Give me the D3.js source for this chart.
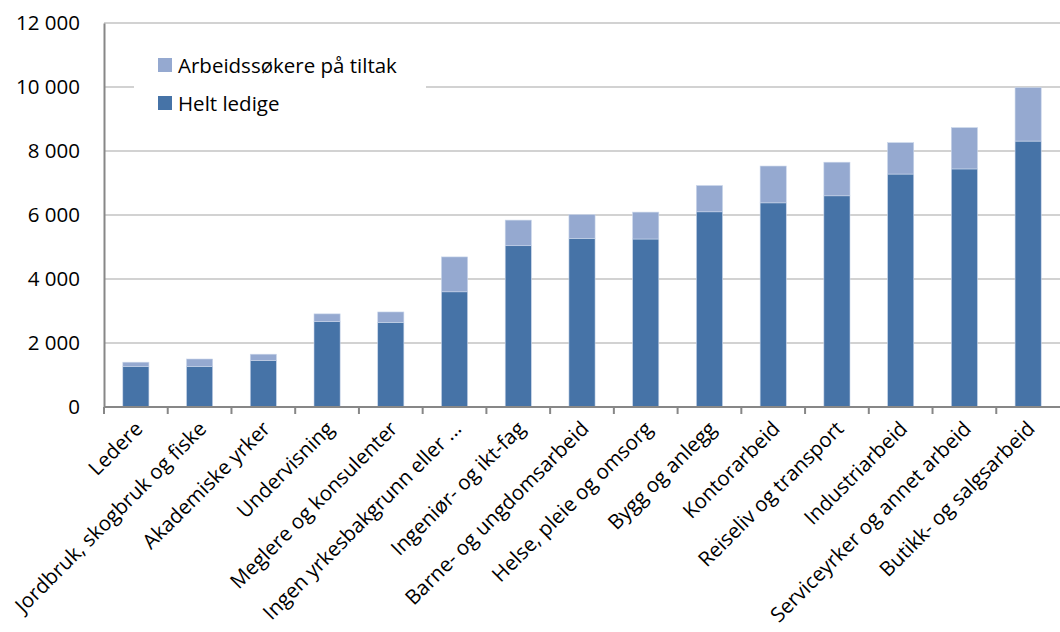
<!DOCTYPE html>
<html>
<head>
<meta charset="utf-8">
<script src="https://cdn.jsdelivr.net/npm/d3@7"></script>
<style>
  body { margin: 0; background: #fff; }
  svg text { font-family: "Open Sans", "Noto Sans", sans-serif; fill: #000; }
</style>
</head>
<body>
<div id="chart"></div>
<script>
//categories and series values
const categories = ["Ledere", "Jordbruk, skogbruk og fiske", "Akademiske yrker", "Undervisning",
    "Meglere og konsulenter", "Ingen yrkesbakgrunn eller ...", "Ingeniør- og ikt-fag",
    "Barne- og ungdomsarbeid", "Helse, pleie og omsorg", "Bygg og anlegg", "Kontorarbeid",
    "Reiseliv og transport", "Industriarbeid", "Serviceyrker og annet arbeid", "Butikk- og salgsarbeid"];
const heltLedige = [1260, 1260, 1450, 2670, 2640, 3600, 5040, 5270, 5250, 6100, 6380, 6600, 7280, 7440, 8310];
const tiltak = [140, 240, 200, 240, 330, 1090, 800, 740, 840, 820, 1150, 1050, 980, 1290, 1670];
const seriesNames = ["Helt ledige", "Arbeidssøkere på tiltak"];
const yTicks = [0, 2000, 4000, 6000, 8000, 10000, 12000];

const width = 1060, height = 632;
const margin = {top: 23, right: 0, bottom: 225, left: 104};

const svg = d3.select("#chart").append("svg")
    .attr("width", width)
    .attr("height", height);

const x = d3.scaleBand()
    .domain(categories)
    .range([margin.left, width - margin.right])
    .paddingInner(0.59)
    .paddingOuter(0.295);

const y = d3.scaleLinear()
    .domain([0, 12000])
    .range([height - margin.bottom, margin.top]);

const fmt = function(v){ return d3.format(",")(v).replace(/,/g, " "); };

//gridlines
svg.append("g").selectAll("line")
    .data(yTicks.slice(1))
    .enter().append("line")
    .attr("x1", margin.left).attr("x2", width - margin.right)
    .attr("y1", function(d){ return y(d); })
    .attr("y2", function(d){ return y(d); })
    .attr("stroke", "#c3c3c3")
    .attr("stroke-width", 1.6);

//stacked data
const table = categories.map(function(c, i){
    return {cat: c, "Helt ledige": heltLedige[i], "Arbeidssøkere på tiltak": tiltak[i]};
});
const stacked = d3.stack().keys(seriesNames)(table);
const colors = {"Helt ledige": "#4673a7", "Arbeidssøkere på tiltak": "#95a9d0"};

//draw bars
svg.append("g").selectAll("g")
    .data(stacked)
    .enter().append("g")
    .attr("fill", function(d){ return colors[d.key]; })
    .selectAll("rect")
    .data(function(d){ return d; })
    .enter().append("rect")
    .attr("x", function(d){ return x(d.data.cat); })
    .attr("y", function(d){ return y(d[1]); })
    .attr("width", x.bandwidth())
    .attr("height", function(d){ return y(d[0]) - y(d[1]); })
    .attr("stroke", "#c9d5ea")
    .attr("stroke-width", 0.6);

//y axis
const yAxis = svg.append("g")
    .attr("transform", "translate(" + margin.left + ",0)")
    .call(d3.axisLeft(y).tickValues(yTicks).tickFormat(fmt).tickSize(0).tickPadding(24));
yAxis.select(".domain").attr("stroke", "#878787").attr("stroke-width", 2);
yAxis.selectAll("text").style("font-size", "20.5px");

//x axis
const xAxisG = svg.append("g")
    .attr("transform", "translate(0," + y(0) + ")");
xAxisG.append("line")
    .attr("x1", margin.left).attr("x2", width - margin.right)
    .attr("stroke", "#878787").attr("stroke-width", 2);
const step = x.step();
xAxisG.selectAll(".tick")
    .data(categories)
    .enter().append("line")
    .attr("x1", function(d){ return x(d) + x.bandwidth() / 2 - step / 2; })
    .attr("x2", function(d){ return x(d) + x.bandwidth() / 2 - step / 2; })
    .attr("y1", 0).attr("y2", 7)
    .attr("stroke", "#878787").attr("stroke-width", 2);

//x labels
xAxisG.selectAll("text")
    .data(categories)
    .enter().append("text")
    .attr("transform", function(d){
        return "translate(" + (x(d) + x.bandwidth() / 2 + 8) + ",23) rotate(-45)";
    })
    .attr("text-anchor", "end")
    .style("font-size", "20.5px")
    .text(function(d){ return d; });

//legend
const legend = svg.append("g");
legend.append("rect")
    .attr("x", 134).attr("y", 50).attr("width", 292).attr("height", 74)
    .attr("fill", "#fff");
const legendItems = ["Arbeidssøkere på tiltak", "Helt ledige"];
legend.selectAll(".sw")
    .data(legendItems)
    .enter().append("rect")
    .attr("x", 158)
    .attr("y", function(d, i){ return 58 + i * 38; })
    .attr("width", 14).attr("height", 14)
    .attr("fill", function(d){ return colors[d]; });
legend.selectAll("text")
    .data(legendItems)
    .enter().append("text")
    .attr("x", 178)
    .attr("y", function(d, i){ return 73 + i * 38; })
    .style("font-size", "20.5px")
    .text(function(d){ return d; });
</script>
</body>
</html>
